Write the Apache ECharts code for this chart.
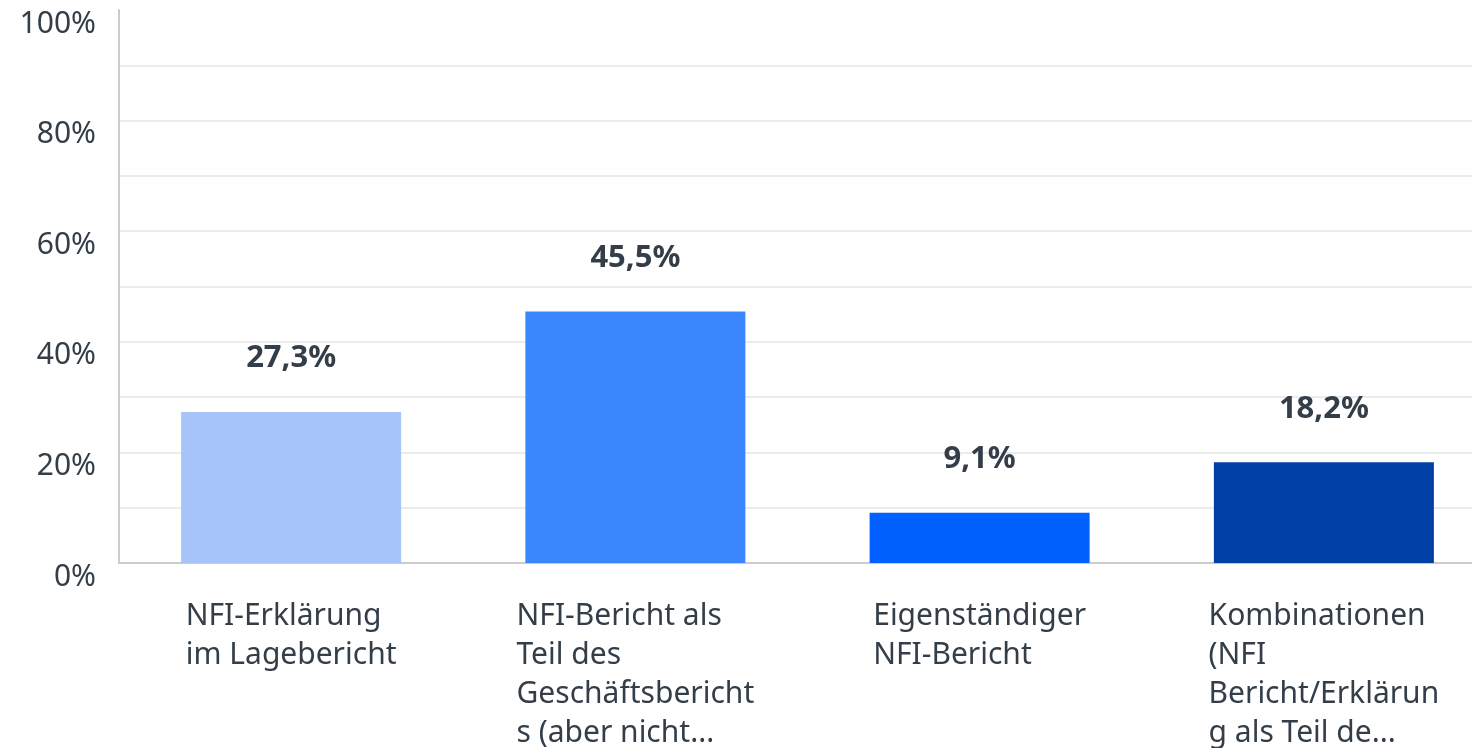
<!DOCTYPE html>
<html>
<head>
<meta charset="utf-8">
<script src="https://cdn.jsdelivr.net/npm/echarts@6/dist/echarts.min.js"></script>
<style>
  html, body { margin: 0; padding: 0; background: #fff; }
  #chart { width: 1472px; height: 748px; }
</style>
</head>
<body>
<div id="chart"></div>
<script>
  // Antwortkategorien (Zeilen so umbrochen wie im Original)
  const categories = [
    'NFI-Erklärung\nim Lagebericht',
    'NFI-Bericht als\nTeil des\nGeschäftsbericht\ns (aber nicht...',
    'Eigenständiger\nNFI-Bericht',
    'Kombinationen\n(NFI\nBericht/Erklärun\ng als Teil de...'
  ]
  const values = [27.3, 45.5, 9.1, 18.2]
  const barColors = ['#a6c4f8', '#3a87fd', '#0061fe', '#003fa6']
  const yTicks = [0, 20, 40, 60, 80, 100]

  const textColor = '#333e48'
  const font = 'Noto Sans'

  const chart = echarts.init(document.getElementById('chart'))
  chart.setOption({
    animation: false,
    grid: {
      left: 119,
      right: -24,
      top: 10,
      bottom: 185,
      containLabel: false,
      outerBoundsMode: 'none'
    },
    xAxis: {
      type: 'category',
      data: categories,
      axisLine: { lineStyle: { color: '#cccccc', width: 2 } },
      axisTick: { show: false },
      axisLabel: {
        interval: 0,
        margin: 34,
        formatter: v => v.split('\n').map(l => '{l|' + l + '}').join('\n'),
        rich: {
          l: {
            align: 'left',
            fontFamily: font,
            fontSize: 30,
            lineHeight: 39,
            color: textColor
          }
        }
      }
    },
    yAxis: {
      type: 'value',
      min: 0,
      max: 100,
      interval: 10,
      axisLine: { show: true, lineStyle: { color: '#cccccc', width: 2 } },
      axisTick: { show: false },
      splitLine: {
        showMaxLine: false,
        lineStyle: { color: '#ebebeb', width: 2 }
      },
      axisLabel: {
        margin: 23,
        fontFamily: font,
        fontSize: 30,
        lineHeight: 28,
        verticalAlign: 'top',
        color: textColor,
        formatter: v => yTicks.includes(v) ? v + '%' : ''
      }
    },
    series: [{
      type: 'bar',
      barWidth: 220,
      data: values.map((v, i) => ({ value: v, itemStyle: { color: barColors[i] } })),
      label: {
        show: true,
        position: 'top',
        distance: 38,
        fontFamily: font,
        fontSize: 31,
        fontWeight: 'bold',
        color: textColor,
        formatter: p => p.value.toFixed(1).replace('.', ',') + '%'
      }
    }]
  })
</script>
</body>
</html>
